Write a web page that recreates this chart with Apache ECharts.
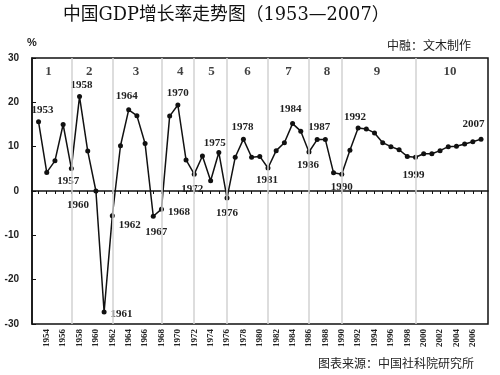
<!DOCTYPE html>
<html>
<head>
<meta charset="utf-8">
<script src="https://cdn.jsdelivr.net/npm/echarts@6/dist/echarts.min.js"></script>
<style>html,body{margin:0;padding:0;background:#fff}#main{width:500px;height:375px}</style>
</head>
<body>
<div id="main"></div>
<script>
// 年份与GDP增长率(%)
var years = [1953,1954,1955,1956,1957,1958,1959,1960,1961,1962,1963,1964,1965,1966,1967,1968,1969,1970,
  1971,1972,1973,1974,1975,1976,1977,1978,1979,1980,1981,1982,1983,1984,1985,1986,1987,1988,1989,1990,
  1991,1992,1993,1994,1995,1996,1997,1998,1999,2000,2001,2002,2003,2004,2005,2006,2007];
var growth = [15.6,4.2,6.8,15.0,5.1,21.3,9.0,0.0,-27.3,-5.6,10.2,18.3,17.0,10.7,-5.7,-4.1,16.9,19.4,
  7.0,3.8,7.9,2.3,8.7,-1.6,7.6,11.7,7.6,7.8,5.2,9.1,10.9,15.2,13.5,8.8,11.6,11.6,4.1,3.8,
  9.2,14.2,14.0,13.1,10.9,10.0,9.3,7.8,7.6,8.4,8.4,9.1,10.0,10.1,10.6,11.1,11.7];
// 底部刻度标签
var labelYears = [1954,1956,1958,1960,1962,1964,1966,1968,1970,1972,1974,1976,1978,1980,
  1982,1984,1986,1988,1990,1992,1994,1996,1998,2000,2002,2004,2006];
// 五年计划分隔线与编号
var planBreaks = [1957,1962,1968,1972,1976,1981,1986,1990,1999];
var planNames = ['1','2','3','4','5','6','7','8','9','10'];
var planCenters = [1954.2,1959.2,1964.9,1970.3,1974.1,1978.5,1983.5,1988.2,1994.3,2003.2];

// 标注年份的位置
var labelPlace = {
  1953:['top',4,0], 1957:['bottom',-3,1], 1958:['top',2,1], 1960:['bottom',-18,2],
  1961:['right',0,2], 1962:['right',0,9], 1964:['top',-2,-2], 1967:['bottom',3,4],
  1968:['right',0,3], 1970:['top',0,0], 1972:['bottom',-2,3], 1975:['top',-4,3],
  1976:['bottom',0,3], 1978:['top',-1,0], 1981:['bottom',-1,0], 1984:['top',-2,-2],
  1986:['bottom',-1,1], 1987:['top',2,0], 1990:['bottom',0,1], 1992:['top',-3,1],
  1999:['bottom',-2,6], 2007:['top',-7.5,-3]
};

var serif = "'Liberation Serif','Times New Roman',serif";

var lineData = years.map(function(y, i){
  var item = {value: [y, growth[i]]};
  var p = labelPlace[y];
  if (p) {
    item.label = {show: true, position: p[0], offset: [p[1], p[2]], distance: 4, formatter: String(y)};
  }
  return item;
});

var myChart = echarts.init(document.getElementById('main'));
var option = {
  backgroundColor: '#fff',
  animation: false,
  title: [
    {text: '中国GDP增长率走势图（1953—2007）', left: 63, top: 6, padding: 0,
     textStyle: {fontSize: 17.8, fontWeight: 'normal', color: '#111', fontFamily: "'DejaVu Serif','Noto Sans CJK SC'"}},
    {text: '%', left: 27, top: 37, padding: 0,
     textStyle: {fontSize: 11, fontWeight: 'bold', color: '#222', fontFamily: 'Liberation Sans'}},
    {text: '中融：文木制作', left: 387, top: 39, padding: 0,
     textStyle: {fontSize: 12, fontWeight: 'normal', color: '#222', fontFamily: 'Noto Sans CJK SC'}},
    {text: '图表来源：中国社科院研究所', left: 318, top: 357, padding: 0,
     textStyle: {fontSize: 12, fontWeight: 'normal', color: '#222', fontFamily: 'Noto Sans CJK SC'}}
  ],
  grid: {left: 32, right: 12, top: 58, bottom: 51, show: true, borderColor: '#111', borderWidth: 1.5},
  xAxis: [
    {type: 'value', min: 1952.2, max: 2007.85, position: 'bottom',
     axisLine: {show: true, onZero: true, lineStyle: {color: '#111', width: 1.5}},
     axisTick: {show: true, customValues: years, length: 3, lineStyle: {color: '#111'}},
     axisLabel: {show: false}, splitLine: {show: false}},
    {type: 'value', min: 1952.2, max: 2007.85, position: 'bottom',
     axisLine: {show: false, onZero: false}, axisTick: {show: false}, splitLine: {show: false},
     axisLabel: {customValues: labelYears, rotate: 90, margin: 5, fontSize: 9, fontWeight: 'bold',
       color: '#222', fontFamily: serif, formatter: function(v){ return String(v); }}}
  ],
  yAxis: {
    type: 'value', min: -30, max: 30, interval: 10,
    axisLine: {show: true, onZero: false, lineStyle: {color: '#111', width: 1.5}},
    axisTick: {show: true, inside: true, length: 4, lineStyle: {color: '#111'}},
    axisLabel: {margin: 13, fontSize: 10, fontWeight: 'bold', color: '#222', fontFamily: 'Liberation Sans'},
    splitLine: {show: false}
  },
  series: [
    {
      type: 'scatter', z: 1, silent: true,
      data: planCenters.map(function(x){ return [x, 27]; }),
      symbolSize: 1, itemStyle: {color: 'rgba(0,0,0,0)'},
      label: {show: true, position: 'inside', fontSize: 13, fontWeight: 'bold', color: '#111', fontFamily: serif,
        formatter: function(p){ return planNames[p.dataIndex]; }},
      markLine: {
        silent: true, symbol: ['none','none'], label: {show: false},
        lineStyle: {color: '#d2d2d2', width: 1.5, type: 'solid'},
        data: planBreaks.map(function(b){ return {xAxis: b}; })
      }
    },
    {
      type: 'line', z: 3, data: lineData,
      symbol: 'circle', symbolSize: 5,
      lineStyle: {color: '#111', width: 1.5},
      itemStyle: {color: '#111'},
      label: {fontSize: 11, fontWeight: 'bold', color: '#222', fontFamily: serif}
    }
  ]
};
myChart.setOption(option);
</script>
</body>
</html>
